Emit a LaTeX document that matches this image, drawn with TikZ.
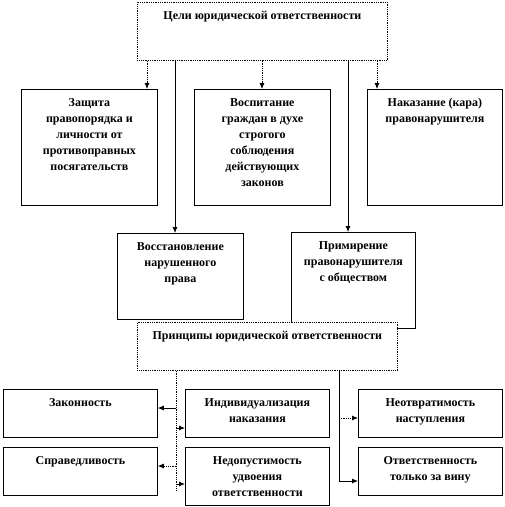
\documentclass[tikz,border=0pt]{standalone}
\usepackage{fontspec}
\setmainfont{Liberation Serif}
\usetikzlibrary{arrows.meta}

% top aligned text inside a box of fixed size
\newcommand{\boxtext}[3]{\parbox[c][#1][t]{#2}{\centering\vspace*{6pt}\strut #3}}

\tikzset{
    % boxes with sharp corners
    box/.style={
        rectangle,
        draw=black,
        fill=white,
        line width=0.8pt,
        inner sep=0pt,
        anchor=north west,
        font=\bfseries\fontsize{12}{16}\selectfont
    },
    box dotted/.style={
        box,
        densely dotted
    },
    arrow style/.style={
        -{Latex[length=6pt,width=5pt]},
        line width=0.8pt,
        black
    },
    dot arrow style/.style={
        arrow style,
        densely dotted
    },
    line style/.style={
        line width=0.8pt,
        black
    },
    dot line style/.style={
        line style,
        densely dotted
    }
}

\begin{document}
\begin{tikzpicture}[x=1pt, y=-1pt]
        \useasboundingbox (0,0) rectangle (505,507);

        % goals
        \node[box dotted] (goals) at (137,2) {\boxtext{58pt}{250pt}{Цели юридической ответственности}};

        \node[box] (zaschita) at (21,89) {\boxtext{116pt}{136pt}{Защита\\правопорядка и\\личности от\\противоправных\\посягательств}};
        \node[box] (vospitanie) at (194,89) {\boxtext{116pt}{136pt}{Воспитание\\граждан в духе\\строгого\\соблюдения\\действующих\\законов}};
        \node[box] (nakazanie) at (367,89) {\boxtext{116pt}{135pt}{Наказание (кара)\\правонарушителя}};

        \node[box] (vosstanovlenie) at (117,233) {\boxtext{86pt}{126pt}{Восстановление\\нарушенного\\права}};
        \node[box] (primirenie) at (291,232) {\boxtext{96pt}{124pt}{Примирение\\правонарушителя\\с обществом}};

        % principles
        \node[box dotted] (principles) at (137,322) {\boxtext{48pt}{260pt}{Принципы юридической ответственности}};

        \node[box] (zakonnost) at (3,389) {\boxtext{48pt}{154pt}{Законность}};
        \node[box] (spravedlivost) at (3,447) {\boxtext{48pt}{154pt}{Справедливость}};
        \node[box] (individ) at (185,389) {\boxtext{48pt}{144pt}{Индивидуализация\\наказания}};
        \node[box] (nedopust) at (185,447) {\boxtext{58pt}{144pt}{Недопустимость\\удвоения\\ответственности}};
        \node[box] (neotvrat) at (358,389) {\boxtext{48pt}{144pt}{Неотвратимость\\наступления}};
        \node[box] (otvetst) at (358,447) {\boxtext{48pt}{144pt}{Ответственность\\только за вину}};

        % goals -> boxes
        \coordinate (g1) at (147,0);
        \coordinate (g2) at (175,0);
        \coordinate (g3) at (262,0);
        \coordinate (g4) at (348,0);
        \coordinate (g5) at (377,0);
        \draw[dot arrow style] (goals.south -| g1) -- (zaschita.north -| g1);
        \draw[arrow style] (goals.south -| g2) -- (vosstanovlenie.north -| g2);
        \draw[dot arrow style] (goals.south -| g3) -- (vospitanie.north -| g3);
        \draw[arrow style] (goals.south -| g4) -- (primirenie.north -| g4);
        \draw[dot arrow style] (goals.south -| g5) -- (nakazanie.north -| g5);

        % principles, left branch
        \coordinate (l0) at (176,490);
        \coordinate (l1) at (176,408);
        \coordinate (l2) at (176,428);
        \coordinate (l3) at (176,466);
        \coordinate (l4) at (176,484);
        \draw[dot line style] (principles.south -| l0) -- (l0);
        \draw[arrow style] (l1) -- (l1 -| zakonnost.east);
        \draw[arrow style] (l2) -- (l2 -| individ.west);
        \draw[dot arrow style] (l3) -- (l3 -| spravedlivost.east);
        \draw[arrow style] (l4) -- (l4 -| nedopust.west);

        % principles, right branch
        \coordinate (r1) at (339,418);
        \coordinate (r2) at (339,481);
        \draw[arrow style] (principles.south -| r2) -- (r2) -- (r2 -| otvetst.west);
        \draw[dot arrow style] (r1) -- (r1 -| neotvrat.west);
    \end{tikzpicture}
\end{document}
